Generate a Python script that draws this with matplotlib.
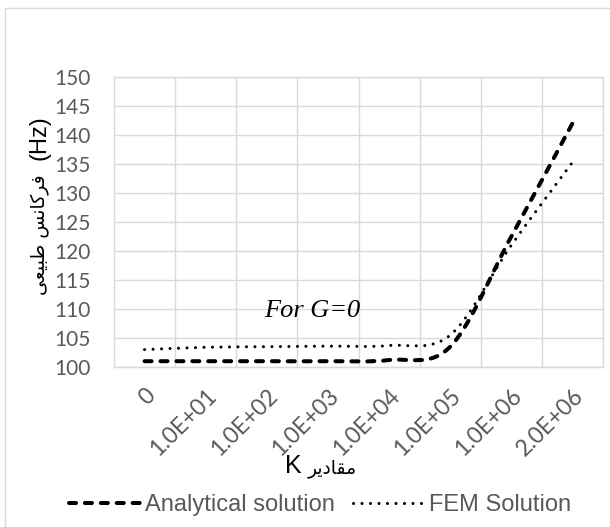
import numpy as np
import matplotlib
matplotlib.use('Agg')
import matplotlib.pyplot as plt
from matplotlib.path import Path
from matplotlib.patches import PathPatch, Rectangle
from matplotlib.lines import Line2D

# K values (category axis) and natural frequency in Hz
k_labels = ['0', '1.0E+01', '1.0E+02', '1.0E+03', '1.0E+04', '1.0E+05', '1.0E+06', '2.0E+06']
analytical = [101.0, 101.0, 101.0, 101.0, 101.2, 103.5, 122.5, 142.0]
fem = [103.0, 103.4, 103.5, 103.6, 103.7, 105.5, 121.0, 135.3]
y_ticks = list(range(100, 151, 5))

# persian labels written with presentation forms in visual (left to right) order
farkans = '\uFEB2\uFEE7\uFE8E\uFB90\uFEAE\uFED3'   # فرکانس
tabiei = '\uFBFD\uFECC\uFBFF\uFE92\uFEC3'          # طبیعی
maghadir = '\uFEAE\uFBFE\uFEA9\uFE8E\uFED8\uFEE3'  # مقادیر

W, H = 610, 527
GRID = '#d9d9d9'
TICK = '#595959'


def smooth_path(xs, ys):
    # catmull-rom style bezier through the points, like a smoothed line in a spreadsheet
    pts = np.column_stack([xs, ys]).astype(float)
    ext = np.vstack([pts[0], pts, pts[-1]])
    verts = [pts[0]]
    codes = [Path.MOVETO]
    for i in range(len(pts) - 1):
        p0, p1, p2, p3 = ext[i], ext[i + 1], ext[i + 2], ext[i + 3]
        verts += [p1 + (p2 - p0) / 6, p2 - (p3 - p1) / 6, p2]
        codes += [Path.CURVE4] * 3
    return Path(verts, codes)


fig = plt.figure(figsize=(W / 100, H / 100), dpi=100)
fig.patch.set_facecolor('white')

# chart border
fig.patches.append(Rectangle((5 / W, -0.1), 1.2, 1 - 8 / H + 0.1, transform=fig.transFigure,
                             fill=False, edgecolor=GRID, lw=1.0))

ax = fig.add_axes([114 / W, 1 - 367 / H, (603 - 114) / W, (367 - 77) / H])
x = np.arange(len(k_labels))

dash_lw, dot_lw = 2.9, 2.2
dash_ls = (0, (1.75, 2.2))
dot_ls = (0, (0.01, 2.77))

ax.add_patch(PathPatch(smooth_path(x, analytical), fill=False, edgecolor='black', lw=dash_lw,
                       joinstyle='round', capstyle='round', linestyle=dash_ls))
ax.add_patch(PathPatch(smooth_path(x, fem), fill=False, edgecolor='black', lw=dot_lw,
                       joinstyle='round', capstyle='round', linestyle=dot_ls))

ax.set_xlim(-0.5, len(k_labels) - 0.5)
ax.set_ylim(100, 150)
ax.set_yticks(y_ticks)
ax.set_xticks(x)
ax.set_xticklabels(k_labels, rotation=45, ha='right', va='top', rotation_mode='anchor',
                   fontfamily='Lato', fontsize=16.5, color=TICK)
ax.set_yticklabels([str(v) for v in y_ticks], fontfamily='Lato', fontsize=15, color=TICK)
ax.tick_params(axis='x', length=0, pad=13)
ax.tick_params(axis='y', length=0, pad=16.5)

ax.set_xticks(np.arange(0.5, len(k_labels) - 1, 1), minor=True)
ax.tick_params(which='minor', length=0)
ax.grid(True, which='minor', axis='x', color=GRID, lw=1.0)
ax.grid(True, which='major', axis='y', color=GRID, lw=1.0)
for s in ax.spines.values():
    s.set_color(GRID)
    s.set_linewidth(1.0)
ax.set_axisbelow(True)

ax.text(2.75, 109.7, 'For G=0', ha='center', va='center', fontfamily='Liberation Serif',
        style='italic', fontsize=19)

# y axis title: persian words and the unit
fig.text(45 / W, 1 - 138 / H, '(Hz)', rotation=90, rotation_mode='anchor',
         ha='center', va='baseline', fontsize=17, fontfamily='Liberation Sans')
fig.text(45 / W, 1 - 235 / H, tabiei + ' ' + farkans, rotation=90, rotation_mode='anchor',
         ha='center', va='baseline', fontsize=13.5, fontfamily='DejaVu Sans')

# x axis title
fig.text(285 / W, 1 - 473 / H, 'K', ha='left', va='baseline', fontsize=18,
         fontfamily='Liberation Sans')
fig.text(308 / W, 1 - 473 / H, maghadir, ha='left', va='baseline', fontsize=13.5,
         fontfamily='DejaVu Sans')

handles = [Line2D([], [], color='black', lw=dash_lw, linestyle=dash_ls, dash_capstyle='round'),
           Line2D([], [], color='black', lw=dot_lw, linestyle=dot_ls, dash_capstyle='round')]
leg = fig.legend(handles, ['Analytical solution', 'FEM Solution'], loc='center',
                 bbox_to_anchor=(320 / W, 1 - 505 / H), ncol=2, frameon=False,
                 prop={'family': 'Liberation Sans', 'size': 17}, handlelength=3.0,
                 handletextpad=0.2, columnspacing=0.8, borderpad=0)
for t in leg.get_texts():
    t.set_color(TICK)

fig.savefig('out.png', dpi=100, facecolor='white')
